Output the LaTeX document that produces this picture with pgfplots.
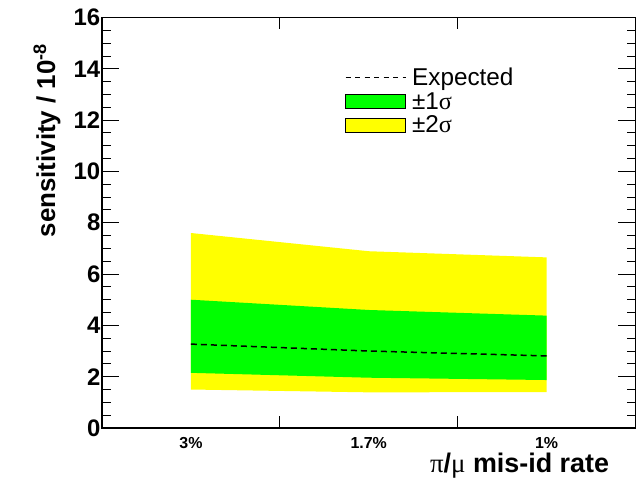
\documentclass[border=0pt]{standalone}
\usepackage{pgfplots}
\pgfplotsset{compat=1.18}
\usepackage{fontspec}
\setmainfont{Liberation Sans}
\newfontfamily\symfont{Liberation Serif}
\definecolor{rootgreen}{RGB}{0,255,0}
\definecolor{rootyellow}{RGB}{255,255,0}
\pgfplotsset{rootframe/.style={
  at={(102bp,54bp)}, anchor=south west,
  scale only axis, width=533.5bp, height=410.5bp,
  xmin=-0.5, xmax=2.5, ymin=0, ymax=16}}
\begin{document}
\begin{tikzpicture}
\useasboundingbox (0,0) rectangle (640bp,482bp);
\begin{axis}[
  rootframe,
  axis line style={line width=1.2bp},
  xtick={0,1,2}, xticklabels={3\%,1.7\%,1\%},
  every x tick/.style={draw=none},
  ytick={0,2,...,16}, minor y tick num=3,
  major tick length=17bp, minor tick length=8.5bp,
  tick style={line width=0.9bp, black},
  xtick pos=both, ytick pos=both,
  tick align=inside,
  /pgf/number format/assume math mode=true,
  yticklabel style={font=\bfseries\fontsize{24}{28}\selectfont, inner sep=1.5bp},
  xticklabel style={font=\bfseries\fontsize{16}{19}\selectfont, inner sep=0bp, yshift=-9bp},
  xlabel={{\symfont\mdseries π}/{\symfont\mdseries μ} mis-id rate},
  ylabel={sensitivity / 10\textsuperscript{-8}},
  xlabel style={font=\bfseries\fontsize{27}{31}\selectfont, at={(axis description cs:0.957,-0.0926)}, anchor=east},
  ylabel style={font=\bfseries\fontsize{26}{30}\selectfont, at={(axis description cs:-0.103,0.945)}, anchor=east},
  legend style={draw=none, fill=none, at={(axis description cs:0.455,0.882)}, anchor=north west,
    font=\fontsize{24.4}{27}\selectfont, cells={anchor=west}, row sep=1.2bp, column sep=4bp, inner sep=0bp},
]
\addplot[fill=rootyellow, draw=none, forget plot] coordinates {
  (0,7.60) (1,6.89) (2,6.65) (2,1.40) (1,1.39) (0,1.50)} -- cycle;
\addplot[fill=rootgreen, draw=none, forget plot] coordinates {
  (0,5.00) (1,4.60) (2,4.38) (2,1.87) (1,1.96) (0,2.15)} -- cycle;
\addplot[black, line width=1.5bp, dash pattern=on 6bp off 4bp, forget plot] coordinates {
  (0,3.27) (1,3.00) (2,2.81)};
\addlegendimage{legend image code/.code={\draw[black, line width=1.2bp, dash pattern=on 5bp off 4.5bp] (0bp,0bp) -- (60bp,0bp);}}
\addlegendentry{Expected}
\addlegendimage{legend image code/.code={\draw[fill=rootgreen, draw=black, line width=0.7bp] (0bp,-7bp) rectangle (60bp,7bp);}}
\addlegendentry{±1{\symfont σ}}
\addlegendimage{legend image code/.code={\draw[fill=rootyellow, draw=black, line width=0.7bp] (0bp,-7bp) rectangle (60bp,7bp);}}
\addlegendentry{±2{\symfont σ}}
\end{axis}
\begin{axis}[
  rootframe,
  axis line style={draw=none},
  xtick={0.5,1.5}, xticklabels={},
  ytick=\empty,
  major tick length=11.5bp,
  tick style={line width=0.9bp, black},
  xtick pos=both, tick align=inside,
]
\end{axis}
\end{tikzpicture}
\end{document}
